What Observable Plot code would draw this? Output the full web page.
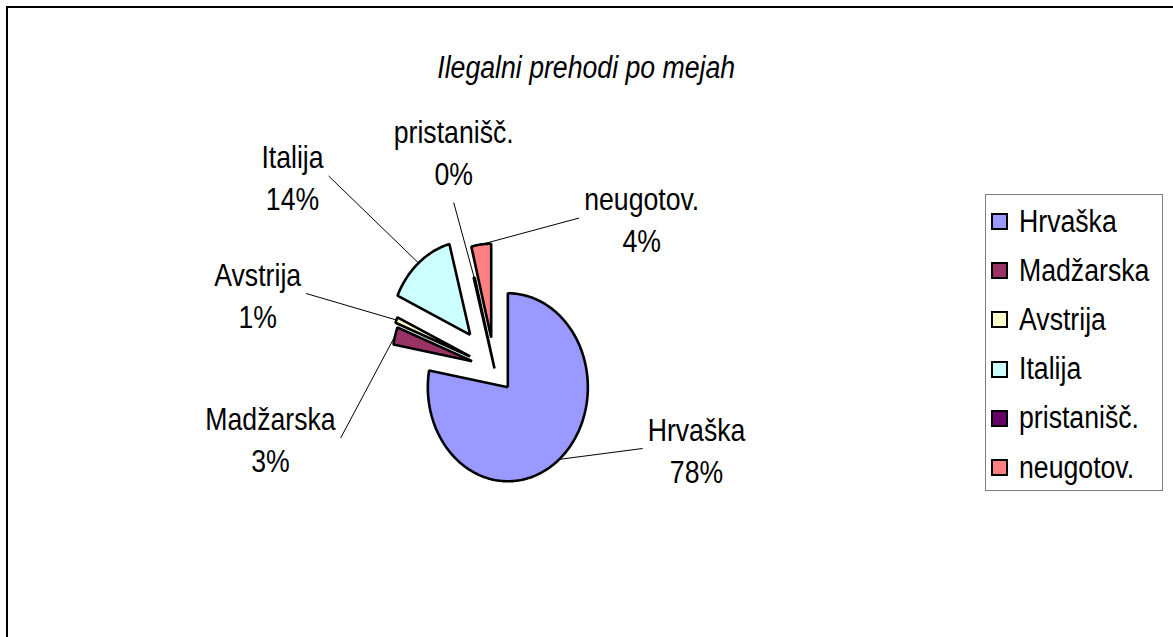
<!DOCTYPE html>
<html>
<head>
<meta charset="utf-8">
<script src="https://cdn.jsdelivr.net/npm/d3@7"></script>
<script src="https://cdn.jsdelivr.net/npm/@observablehq/plot@0.6"></script>
<style>
  html, body { margin: 0; padding: 0; background: #fff; }
  #chart { position: relative; width: 1173px; height: 637px; overflow: hidden;
           font-family: "Liberation Sans", Arial, sans-serif; color: #000; }
  #frame { position: absolute; left: 6px; top: 6px; width: 1300px; height: 800px;
           border-top: 2px solid #000; border-left: 2px solid #000; box-sizing: border-box; }
  #plot { position: absolute; left: 0; top: 0; }
  #title { position: absolute; left: 0; top: 50px; width: 1173px; text-align: center;
           font-style: italic; font-size: 31px; line-height: 36px; }
  #title span { display: inline-block; transform: scaleX(0.86); }
  #legend { position: absolute; left: 985px; top: 194px; width: 178px; height: 297px;
            border: 1.5px solid #7f7f7f; box-sizing: border-box; background: #fff; }
  .item { position: absolute; left: 5px; height: 36px; display: flex; align-items: center; }
  .sw { width: 13px; height: 13px; border: 2px solid #000; flex: none; }
  .lt { display: inline-block; font-size: 31px; line-height: 36px; margin-left: 11px;
        transform: scaleX(0.86); transform-origin: left center; white-space: nowrap; }
</style>
</head>
<body>
<div id="chart">
  <div id="frame"></div>
  <div id="plot"></div>
  <div id="title"><span>Ilegalni prehodi po mejah</span></div>
  <div id="legend"></div>
</div>
<script>
// ---- data ----
const names  = ["Hrvaška", "Madžarska", "Avstrija", "Italija", "pristanišč.", "neugotov."];
const values = [78, 3, 1, 14, 0.2, 4];
const colors = ["#9999FF", "#993366", "#FFFFCC", "#CCFFFF", "#660066", "#FF8080"];
// explosion of each slice, as a fraction of the radius
const explode = [0.26, 0.29, 0.33, 0.47, 0, 0.33];
// label anchor positions, in pie-radius units from the pie centre (x right, y up)
const labelPos = [[2.525, -0.851], [-2.8, -0.739], [-2.96, 0.798], [-2.525, 2.048], [-0.51, 2.319], [1.84, 1.601]];

// ---- layout ----
const W = 1173, H = 637;
const cx = 494, cy = 368;      // pie centre (px)
const rx = 80, ry = 94;        // pie radii (px) – the reference pie is an ellipse
const fontSize = 31, squeeze = 0.86, lineH = 42;

const total = d3.sum(values);
const pct = values.map(v => Math.round(v / total * 100) + "%");
const arcs = d3.pie().sort(null).value(d => d)(values);

// slice outlines
const slicePts = [];
const anchors = [];
arcs.forEach((a, i) => {
  const mid = (a.startAngle + a.endAngle) / 2;
  const ox = explode[i] * Math.sin(mid), oy = explode[i] * Math.cos(mid);
  const n = Math.max(2, Math.ceil((a.endAngle - a.startAngle) / (Math.PI / 180)));
  slicePts.push({name: names[i], x: ox, y: oy});
  for (let k = 0; k <= n; k++) {
    const t = a.startAngle + (a.endAngle - a.startAngle) * k / n;
    slicePts.push({name: names[i], x: ox + Math.sin(t), y: oy + Math.cos(t)});
  }
  slicePts.push({name: names[i], x: ox, y: oy});
  anchors.push([ox + Math.sin(mid), oy + Math.cos(mid)]);
});

// label texts + leader lines
const ctx = document.createElement("canvas").getContext("2d");
ctx.font = `${fontSize}px "Liberation Sans", Arial, sans-serif`;
const labels = names.map((nm, i) => ({x: labelPos[i][0], y: labelPos[i][1], text: nm + "\n" + pct[i]}));
const leaders = [];
names.forEach((nm, i) => {
  const [lx, ly] = labelPos[i];
  const [px, py] = anchors[i];
  const halfW = Math.max(ctx.measureText(nm).width, ctx.measureText(pct[i]).width) * squeeze / 2;
  const dxPx = (lx - px) * rx;
  let sx, sy;
  if (Math.abs(dxPx) > halfW) {
    sx = lx - Math.sign(dxPx) * (halfW + 5) / rx;
    sy = ly;
  } else {
    sx = lx;
    sy = ly - Math.sign(ly - py) * (lineH + 10) / ry;
  }
  leaders.push({name: nm, x1: sx, y1: sy, x2: px, y2: py});
});

const plot = Plot.plot({
  width: W, height: H,
  marginTop: 0, marginRight: 0, marginBottom: 0, marginLeft: 0,
  x: {domain: [(0 - cx) / rx, (W - cx) / rx], axis: null},
  y: {domain: [(cy - H) / ry, cy / ry], axis: null},
  color: {type: "ordinal", domain: names, range: colors},
  style: {fontFamily: '"Liberation Sans", Arial, sans-serif', background: "transparent", overflow: "visible"},
  marks: [
    Plot.link(leaders, {x1: "x1", y1: "y1", x2: "x2", y2: "y2", stroke: "#000", strokeWidth: 1}),
    Plot.line(slicePts, {x: "x", y: "y", z: "name", fill: "name", stroke: "#000",
                         strokeWidth: 2.6, strokeLinejoin: "miter", strokeLinecap: "butt"}),
    Plot.text(labels, {x: "x", y: "y", text: "text", fontSize, lineHeight: lineH / fontSize,
                       textAnchor: "middle", fill: "#000"})
  ]
});
// narrow the label glyphs like the reference (scale about each label's anchor)
plot.querySelectorAll('g[aria-label="text"] text').forEach(t => {
  const tr = t.getAttribute("transform") || "";
  t.setAttribute("transform", tr + ` scale(${squeeze},1)`);
});
document.getElementById("plot").appendChild(plot);

// legend
const legend = document.getElementById("legend");
names.forEach((nm, i) => {
  const it = document.createElement("div");
  it.className = "item";
  it.style.top = (28 + i * 49.2 - 18 - 1.5) + "px";
  const sw = document.createElement("span");
  sw.className = "sw";
  sw.style.background = colors[i];
  const lt = document.createElement("span");
  lt.className = "lt";
  lt.textContent = nm;
  it.appendChild(sw); it.appendChild(lt);
  legend.appendChild(it);
});
</script>
</body>
</html>
